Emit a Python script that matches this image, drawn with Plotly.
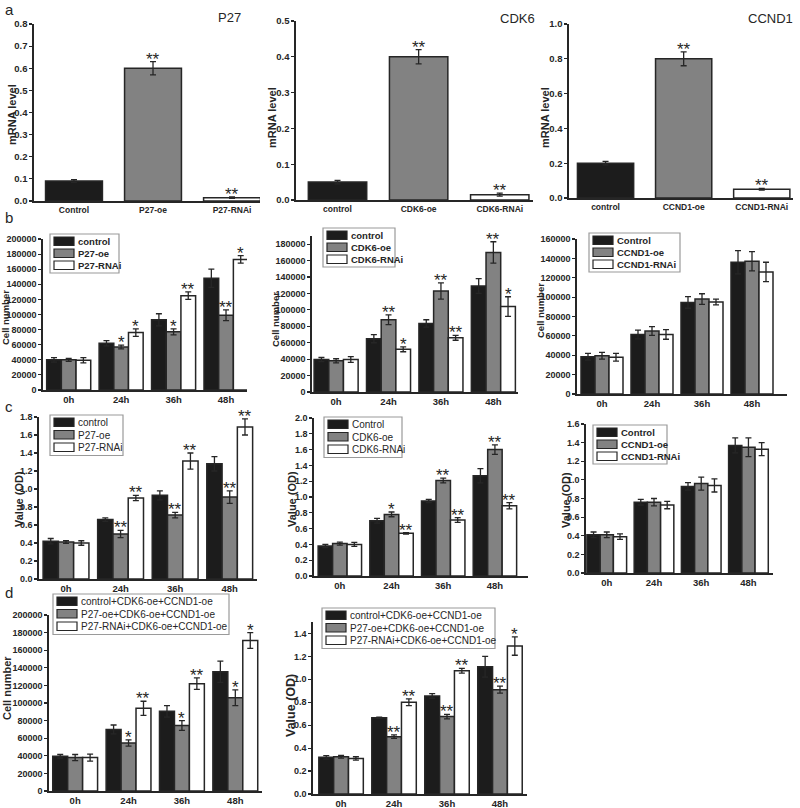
import plotly.graph_objects as go

W, H = 800, 808
FONT = "Liberation Sans, Arial, sans-serif"
INK = "#262626"
BAR_COLORS = ["#1c1c1c", "#828282", "#ffffff"]
BARGAP = 0.16

# ---------------- data ----------------
times = ["0h", "24h", "36h", "48h"]

a1_cats = ["Control", "P27-oe", "P27-RNAi"]
a1_vals = [0.09, 0.60, 0.015]
a1_errs = [0.006, 0.03, 0.003]
a1_sig = ["", "**", "**"]

a2_cats = ["control", "CDK6-oe", "CDK6-RNAi"]
a2_vals = [0.05, 0.40, 0.015]
a2_errs = [0.005, 0.02, 0.004]
a2_sig = ["", "**", "**"]

a3_cats = ["control", "CCND1-oe", "CCND1-RNAi"]
a3_vals = [0.20, 0.80, 0.05]
a3_errs = [0.01, 0.04, 0.005]
a3_sig = ["", "**", "**"]

b1_names = ["control", "P27-oe", "P27-RNAi"]
b1_vals = [[40000, 62000, 93000, 148000], [40000, 57000, 77000, 99000], [39500, 76000, 125000, 173000]]
b1_errs = [[3000, 3500, 8000, 12000], [2000, 2500, 4000, 7000], [3500, 5000, 5000, 5000]]
b1_sig = [["", "", "", ""], ["", "*", "*", "**"], ["", "*", "**", "*"]]

b2_names = ["control", "CDK6-oe", "CDK6-RNAi"]
b2_vals = [[39500, 65000, 83500, 129000], [38000, 88000, 123000, 170000], [39500, 52000, 66000, 104000]]
b2_errs = [[2500, 5000, 4500, 9000], [2500, 6000, 10000, 13000], [3500, 3000, 3000, 12000]]
b2_sig = [["", "", "", ""], ["", "**", "**", "**"], ["", "*", "**", "*"]]

b3_names = ["Control", "CCND1-oe", "CCND1-RNAi"]
b3_vals = [[38500, 61500, 94500, 136000], [39500, 65000, 98000, 137000], [38000, 61500, 95000, 126000]]
b3_errs = [[3500, 4500, 6000, 12000], [3500, 4500, 5500, 10000], [4000, 5000, 3000, 10000]]
b3_sig = [["", "", "", ""], ["", "", "", ""], ["", "", "", ""]]

c1_names = ["control", "P27-oe", "P27-RNAi"]
c1_vals = [[0.42, 0.66, 0.93, 1.28], [0.41, 0.50, 0.71, 0.91], [0.40, 0.90, 1.31, 1.69]]
c1_errs = [[0.03, 0.02, 0.05, 0.08], [0.015, 0.04, 0.03, 0.07], [0.025, 0.03, 0.09, 0.09]]
c1_sig = [["", "", "", ""], ["", "**", "**", "**"], ["", "**", "**", "**"]]

c2_names = ["Control", "CDK6-oe", "CDK6-RNAi"]
c2_vals = [[0.38, 0.70, 0.95, 1.27], [0.41, 0.78, 1.21, 1.60], [0.40, 0.54, 0.71, 0.89]]
c2_errs = [[0.02, 0.03, 0.02, 0.09], [0.02, 0.03, 0.03, 0.06], [0.025, 0.01, 0.03, 0.04]]
c2_sig = [["", "", "", ""], ["", "*", "**", "**"], ["", "**", "**", "**"]]

c3_names = ["Control", "CCND1-oe", "CCND1-RNAi"]
c3_vals = [[0.41, 0.76, 0.93, 1.37], [0.41, 0.76, 0.96, 1.35], [0.39, 0.73, 0.94, 1.33]]
c3_errs = [[0.03, 0.03, 0.04, 0.08], [0.03, 0.04, 0.07, 0.10], [0.03, 0.04, 0.07, 0.07]]
c3_sig = [["", "", "", ""], ["", "", "", ""], ["", "", "", ""]]

d1_names = ["control+CDK6-oe+CCND1-oe", "P27-oe+CDK6-oe+CCND1-oe", "P27-RNAi+CDK6-oe+CCND1-oe"]
d1_vals = [[39500, 70000, 90500, 135500], [38000, 54500, 74500, 106000], [38000, 94000, 122000, 171000]]
d1_errs = [[2000, 5000, 6500, 12000], [3500, 3500, 5500, 9000], [4000, 8000, 6500, 9000]]
d1_sig = [["", "", "", ""], ["", "*", "*", "*"], ["", "**", "**", "*"]]

d2_names = ["control+CDK6-oe+CCND1-oe", "P27-oe+CDK6-oe+CCND1-oe", "P27-RNAi+CDK6-oe+CCND1-oe"]
d2_vals = [[0.32, 0.665, 0.855, 1.11], [0.325, 0.50, 0.675, 0.91], [0.31, 0.80, 1.075, 1.29]]
d2_errs = [[0.015, 0.005, 0.02, 0.09], [0.012, 0.015, 0.02, 0.03], [0.015, 0.03, 0.02, 0.08]]
d2_sig = [["", "", "", ""], ["", "**", "**", "**"], ["", "**", "**", "*"]]


# ---------------- helpers ----------------
def px(x):
    return x / W


def py(y):
    return 1 - y / H


fig = go.Figure()
annotations = []
shapes = []

# panel geometry in pixels: x0, x1, ytop, ybottom ; x-range (category units), y-range max, dtick, format
single_panels = [
    dict(cats=a1_cats, vals=a1_vals, errs=a1_errs, sig=a1_sig, box=(34, 260, 24, 201), xr=(-0.506, 2.354),
         ymax=0.8, dtick=0.1, fmt=".1f", title="P27", title_xy=(229, 17), ylab="mRNA level", ylab_xy=(12, 115)),
    dict(cats=a2_cats, vals=a2_vals, errs=a2_errs, sig=a2_sig, box=(296, 533, 21, 200), xr=(-0.512, 2.41),
         ymax=0.5, dtick=0.1, fmt=".1f", title="CDK6", title_xy=(517, 18), ylab="mRNA level", ylab_xy=(272, 118)),
    dict(cats=a3_cats, vals=a3_vals, errs=a3_errs, sig=a3_sig, box=(569, 793, 24, 198), xr=(-0.468, 2.40),
         ymax=1.0, dtick=0.2, fmt=".1f", title="CCND1", title_xy=(770, 18), ylab="mRNA level", ylab_xy=(545, 118)),
]

group_panels = [
    dict(names=b1_names, vals=b1_vals, errs=b1_errs, sig=b1_sig, box=(43, 247, 239, 390), xr=(-0.49, 3.40),
         ymax=200000, dtick=20000, fmt="d", ylab="Cell number", ylab_xy=(5, 318), ylab_size=9.5,
         leg=(50, 234, 69), leg_font=9.5),
    dict(names=b2_names, vals=b2_vals, errs=b2_errs, sig=b2_sig, box=(312, 518, 236, 392), xr=(-0.46, 3.47),
         ymax=190000, dtick=20000, fmt="d", ylab="Cell number", ylab_xy=(275, 320), ylab_size=9.5,
         leg=(323, 228, 72), leg_font=9.5),
    dict(names=b3_names, vals=b3_vals, errs=b3_errs, sig=b3_sig, box=(577, 787, 239, 394), xr=(-0.50, 3.70),
         ymax=160000, dtick=20000, fmt="d", ylab="Cell number", ylab_xy=(540, 311), ylab_size=9.5,
         leg=(589, 233, 91), leg_font=9.5),
    dict(names=c1_names, vals=c1_vals, errs=c1_errs, sig=c1_sig, box=(39, 257, 417, 579), xr=(-0.495, 3.50),
         ymax=1.8, dtick=0.2, fmt=".1f", ylab="Value (OD)", ylab_xy=(19, 499), ylab_size=11,
         leg=(50, 415, 73), leg_font=10),
    dict(names=c2_names, vals=c2_vals, errs=c2_errs, sig=c2_sig, box=(314, 528, 418, 576), xr=(-0.50, 3.64),
         ymax=2.0, dtick=0.2, fmt=".1f", ylab="Value (OD)", ylab_xy=(292, 499), ylab_size=11,
         leg=(324, 417, 78), leg_font=10),
    dict(names=c3_names, vals=c3_vals, errs=c3_errs, sig=c3_sig, box=(586, 773, 424, 573), xr=(-0.44, 3.52),
         ymax=1.6, dtick=0.2, fmt=".1f", ylab="Value (OD)", ylab_xy=(566, 500), ylab_size=11,
         leg=(593, 425, 74), leg_font=9.5),
    dict(names=d1_names, vals=d1_vals, errs=d1_errs, sig=d1_sig, box=(49, 262, 615, 791), xr=(-0.49, 3.50),
         ymax=200000, dtick=20000, fmt="d", ylab="Cell number", ylab_xy=(7, 688), ylab_size=11,
         leg=(53, 594, 176), leg_font=10),
    dict(names=d2_names, vals=d2_vals, errs=d2_errs, sig=d2_sig, box=(313, 527, 622, 794), xr=(-0.53, 3.51),
         ymax=1.5, dtick=0.2, fmt=".1f", ylab="Value (OD)", ylab_xy=(291, 706), ylab_size=12.5,
         leg=(322, 608, 173), leg_font=10),
]

layout_axes = {}
axis_idx = 0


def setup_axes(box, xrange_, ymax, dtick, fmt, xtick_size, ytick_size):
    global axis_idx
    axis_idx += 1
    k = axis_idx
    sx = "" if k == 1 else str(k)
    x0, x1, yt, yb = box
    layout_axes["xaxis" + sx] = dict(
        domain=[px(x0), px(x1)], anchor="y" + sx, type="category", automargin=False, range=list(xrange_),
        showline=True, linecolor=INK, linewidth=1.6, ticks="", showgrid=False, zeroline=False,
        tickfont=dict(family=FONT, size=xtick_size, color=INK, weight="bold"), ticklabelstandoff=0,
        fixedrange=True,
    )
    layout_axes["yaxis" + sx] = dict(
        domain=[py(yb), py(yt)], anchor="x" + sx, range=[0, ymax], dtick=dtick, tick0=0, tickformat=fmt,
        automargin=False,
        showline=True, linecolor=INK, linewidth=1.6, ticks="outside", ticklen=3, tickwidth=1.2, tickcolor=INK,
        showgrid=False, zeroline=False,
        tickfont=dict(family=FONT, size=ytick_size, color=INK, weight="bold"),
        fixedrange=True,
    )
    return "x" + sx, "y" + sx


def star(xref, yref, x, y, txt):
    annotations.append(dict(
        xref=xref, yref=yref, x=x, y=y, text=txt, showarrow=False, yanchor="bottom", yshift=-9,
        font=dict(family=FONT, size=17, color=INK),
    ))


def ylabel(text, xy, size):
    annotations.append(dict(
        xref="paper", yref="paper", x=px(xy[0]), y=py(xy[1]), text=text, textangle=-90, showarrow=False,
        xanchor="center", yanchor="middle", font=dict(family=FONT, size=size, color=INK, weight="bold"),
    ))


def legend(names, left, top, width, fsize):
    pitch = 12 if fsize < 10 else 12.5
    height = pitch * len(names) + 3
    shapes.append(dict(type="rect", xref="paper", yref="paper", x0=px(left), x1=px(left + width),
                       y0=py(top + height), y1=py(top), line=dict(color="#9a9a9a", width=1.2),
                       fillcolor="white", layer="above"))
    for j, nm in enumerate(names):
        ty = top + 2 + pitch * j
        shapes.append(dict(type="rect", xref="paper", yref="paper", x0=px(left + 4), x1=px(left + 24),
                           y0=py(ty + 9.5), y1=py(ty + 1), line=dict(color=INK, width=1.2),
                           fillcolor=BAR_COLORS[j], layer="above"))
        annotations.append(dict(xref="paper", yref="paper", x=px(left + 26), y=py(ty + 5.5), text=nm,
                                showarrow=False, xanchor="left", yanchor="middle",
                                font=dict(family=FONT, size=fsize, color=INK,
                                          weight="bold" if fsize < 10 else "normal")))


# ----- row a: single-series mRNA panels -----
for p in single_panels:
    xr, yr = setup_axes(p["box"], p["xr"], p["ymax"], p["dtick"], p["fmt"], 8.5, 9.5)
    fig.add_trace(go.Bar(
        x=p["cats"], y=p["vals"], xaxis=xr, yaxis=yr, width=0.72,
        marker=dict(color=BAR_COLORS, line=dict(color=INK, width=1.5)),
        error_y=dict(type="data", array=p["errs"], color=INK, thickness=1.3, width=3),
        showlegend=False,
    ))
    for i, s in enumerate(p["sig"]):
        if s:
            star(xr, yr, i, p["vals"][i] + p["errs"][i], s)
    annotations.append(dict(xref="paper", yref="paper", x=px(p["title_xy"][0]), y=py(p["title_xy"][1]),
                            text=p["title"], showarrow=False, xanchor="center", yanchor="middle",
                            font=dict(family=FONT, size=13, color=INK)))
    ylabel(p["ylab"], p["ylab_xy"], 11)

# ----- rows b, c, d: grouped panels -----
bw = (1 - BARGAP) / 3
for p in group_panels:
    xr, yr = setup_axes(p["box"], p["xr"], p["ymax"], p["dtick"], p["fmt"], 9.5, 9)
    for j in range(3):
        fig.add_trace(go.Bar(
            x=times, y=p["vals"][j], xaxis=xr, yaxis=yr, name=p["names"][j], offsetgroup=str(j),
            marker=dict(color=BAR_COLORS[j], line=dict(color=INK, width=1.5)),
            error_y=dict(type="data", array=p["errs"][j], color=INK, thickness=1.3, width=3),
            showlegend=False,
        ))
        for i, s in enumerate(p["sig"][j]):
            if s:
                star(xr, yr, i + (j - 1) * bw, p["vals"][j][i] + p["errs"][j][i], s)
    ylabel(p["ylab"], p["ylab_xy"], p["ylab_size"])
    legend(p["names"], p["leg"][0], p["leg"][1], p["leg"][2], p["leg_font"])

# panel letters
for letter, (lx, ly) in zip(["a", "b", "c", "d"], [(9, 9), (9, 217), (9, 406), (9, 592)]):
    annotations.append(dict(xref="paper", yref="paper", x=px(lx), y=py(ly), text=letter, showarrow=False,
                            xanchor="center", yanchor="middle", font=dict(family=FONT, size=15, color=INK)))

fig.update_layout(
    width=W, height=H, margin=dict(l=0, r=0, t=0, b=0, autoexpand=False),
    paper_bgcolor="white", plot_bgcolor="white",
    barmode="group", bargap=BARGAP, bargroupgap=0,
    showlegend=False, annotations=annotations, shapes=shapes,
    font=dict(family=FONT, color=INK),
    **layout_axes,
)

fig.write_html(
    "out.html",
    config={"displayModeBar": False, "staticPlot": True},
    post_script="document.body.style.margin='0';document.body.style.overflow='hidden';",
)
